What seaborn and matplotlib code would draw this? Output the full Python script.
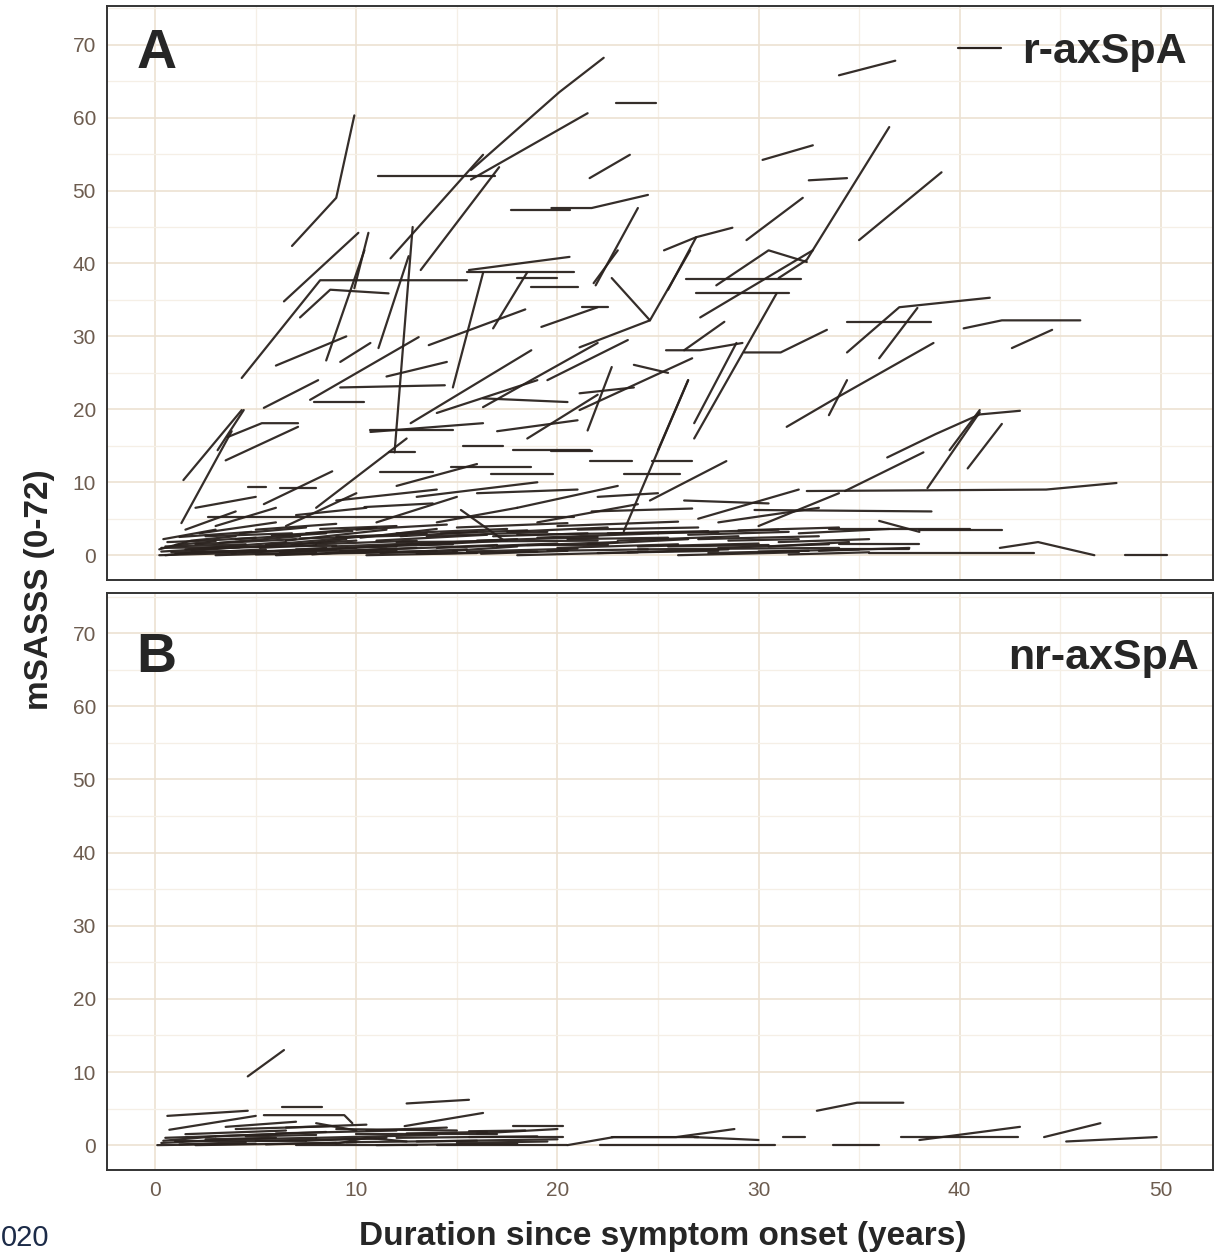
import matplotlib
matplotlib.use('Agg')
import matplotlib.pyplot as plt
import pandas as pd
import seaborn as sns
from matplotlib.lines import Line2D
from matplotlib.ticker import MultipleLocator

# each trajectory: list of (years since onset, mSASSS)
A_UPPER = [
    [(6.8, 42.4), (9.0, 49.0), (9.9, 60.3)],
    [(15.7, 52.8), (20.1, 63.5), (22.3, 68.2)],
    [(15.7, 51.5), (21.5, 60.6)],
    [(22.9, 62.0), (24.9, 62.0)],
    [(21.6, 51.7), (23.6, 54.9)],
    [(19.7, 47.6), (21.7, 47.6), (24.5, 49.4)],
    [(21.9, 37.0), (24.0, 47.6)],
    [(25.5, 36.4), (26.9, 43.6), (28.7, 44.9)],
    [(25.3, 41.8), (26.9, 43.6)],
    [(29.4, 43.2), (32.2, 49.0)],
    [(30.2, 54.2), (32.7, 56.2)],
    [(32.5, 51.4), (34.4, 51.7)],
    [(34.0, 65.8), (36.8, 67.8)],
    [(31.0, 38.0), (32.4, 40.5), (36.5, 58.7)],
    [(35.0, 43.2), (39.1, 52.5)],
    [(27.9, 37.0), (30.5, 41.8), (32.4, 40.2)],
    [(26.4, 37.9), (32.1, 37.9)],
    [(26.9, 35.9), (31.5, 35.9)],
    [(11.1, 52.0), (16.9, 52.0)],
    [(4.3, 24.3), (8.2, 37.7), (15.5, 37.7)],
    [(6.4, 34.8), (10.1, 44.2)],
    [(9.9, 36.6), (10.6, 44.2)],
    [(11.7, 40.7), (16.3, 54.9)],
    [(13.2, 39.1), (17.1, 53.2)],
    [(17.7, 47.3), (20.6, 47.3)],
    [(15.6, 39.1), (20.6, 40.9)],
    [(18.0, 38.0), (20.0, 38.0)],
    [(15.5, 38.8), (20.8, 38.8)],
    [(18.7, 36.8), (21.0, 36.8)],
    [(7.2, 32.6), (8.7, 36.4), (11.6, 35.9)],
    [(8.5, 26.7), (10.4, 41.8)],
    [(11.1, 28.4), (12.6, 41.0)],
    [(11.9, 14.1), (12.8, 45.0)],
    [(14.8, 23.0), (16.3, 38.7)],
    [(16.8, 31.1), (18.5, 38.8)],
    [(19.2, 31.3), (22.0, 34.0)],
    [(27.1, 32.6), (32.7, 41.8)],
    [(21.8, 37.3), (23.0, 41.8)],
    [(22.7, 38.0), (24.6, 32.2), (26.6, 41.8)],
]

A_MIDDLE = [
    [(21.1, 19.9), (26.7, 27.0)],
    [(23.8, 26.1), (25.5, 25.0)],
    [(21.5, 17.1), (22.7, 25.8)],
    [(21.1, 22.2), (23.8, 23.0)],
    [(25.0, 14.4), (26.5, 24.0)],
    [(26.8, 18.1), (28.9, 29.1)],
    [(25.4, 28.1), (27.1, 28.1), (29.2, 29.1)],
    [(26.3, 28.1), (28.3, 32.0)],
    [(29.3, 27.8), (31.1, 27.8), (33.4, 30.9)],
    [(26.8, 16.0), (30.9, 35.9)],
    [(31.4, 17.6), (33.7, 21.3), (38.7, 29.1)],
    [(33.5, 19.2), (34.4, 24.0)],
    [(34.4, 27.8), (37.0, 34.0), (41.5, 35.3)],
    [(34.4, 32.0), (38.6, 32.0)],
    [(36.0, 27.0), (37.9, 33.9)],
    [(40.2, 31.1), (42.1, 32.2), (46.0, 32.2)],
    [(42.6, 28.4), (44.6, 30.9)],
    [(39.5, 14.4), (41.0, 19.9)],
    [(40.4, 11.9), (42.1, 18.0)],
    [(21.1, 28.5), (24.6, 32.2)],
    [(21.2, 34.0), (22.5, 34.0)],
    [(13.6, 28.8), (18.4, 33.7)],
    [(5.4, 20.2), (8.1, 24.0)],
    [(7.7, 21.3), (13.1, 29.9)],
    [(9.2, 23.0), (14.4, 23.3)],
    [(7.9, 21.0), (10.4, 21.0)],
    [(3.6, 16.2), (5.3, 18.1), (7.1, 18.1)],
    [(3.1, 14.4), (4.4, 19.9)],
    [(10.7, 16.9), (16.3, 18.1)],
    [(12.7, 18.1), (18.7, 28.1)],
    [(16.3, 20.3), (22.0, 29.1)],
    [(16.3, 21.5), (20.5, 21.0)],
    [(9.2, 26.5), (10.7, 29.1)],
    [(1.4, 10.3), (4.3, 19.9)],
    [(1.3, 4.4), (3.8, 17.0)],
    [(3.5, 13.0), (7.1, 17.6)],
    [(10.7, 17.1), (14.8, 17.1)],
    [(11.6, 14.1), (12.9, 14.1)],
    [(11.2, 11.4), (13.8, 11.4)],
    [(14.7, 12.1), (18.7, 12.1)],
    [(16.7, 11.2), (19.8, 11.2)],
    [(17.8, 14.4), (21.6, 14.4)],
    [(15.3, 15.0), (17.3, 15.0)],
    [(19.7, 14.3), (21.7, 14.3)],
    [(21.6, 12.9), (23.7, 12.9)],
    [(24.7, 12.9), (26.7, 12.9)],
    [(23.3, 11.1), (26.1, 11.1)],
    [(23.3, 3.3), (26.5, 24.0)],
    [(34.3, 8.8), (38.2, 14.1)],
    [(36.4, 13.4), (38.8, 16.6), (41.0, 19.3), (43.0, 19.8)],
    [(38.4, 9.2), (41.0, 19.6)],
    [(24.6, 7.5), (28.4, 12.9)],
    [(5.4, 7.0), (8.8, 11.5)],
    [(8.0, 6.5), (12.5, 16.0)],
    [(12.0, 9.5), (16.0, 12.5)],
    [(17.0, 17.0), (21.0, 18.5)],
    [(18.5, 16.0), (22.0, 22.0)],
    [(14.0, 19.5), (19.0, 24.0)],
    [(19.5, 24.0), (23.5, 29.5)],
    [(6.0, 26.0), (9.5, 30.0)],
    [(11.5, 24.5), (14.5, 26.5)],
]

A_LOWER = [
    [(32.4, 8.8), (44.3, 9.0), (47.8, 9.9)],
    [(38.0, 3.4), (42.1, 3.4)],
    [(36.0, 4.7), (38.0, 3.2)],
    [(42.0, 1.0), (43.9, 1.8), (46.7, 0.0)],
    [(48.2, 0.0), (50.3, 0.0)],
    [(35.5, 0.3), (43.7, 0.3)],
    [(21.7, 6.0), (26.7, 6.4)],
    [(26.3, 7.5), (30.5, 7.1)],
    [(29.8, 6.2), (38.6, 6.0)],
    [(10.4, 6.6), (13.8, 7.1)],
    [(2.6, 5.2), (20.8, 5.2)],
    [(15.2, 6.2), (17.3, 2.1)],
    [(4.6, 9.3), (5.5, 9.3)],
    [(6.2, 9.2), (8.0, 9.2)],
    [(13.0, 8.0), (19.0, 10.0)],
    [(18.0, 6.5), (23.0, 9.5)],
    [(27.0, 5.0), (32.0, 9.0)],
    [(30.0, 4.0), (34.0, 8.5)],
    [(33.5, 3.6), (40.5, 3.6)],
    [(34.0, 0.8), (37.5, 0.8)],
    [(2.0, 6.5), (5.0, 8.0)],
    [(6.5, 4.0), (10.0, 8.5)],
    [(9.0, 7.5), (14.0, 9.0)],
    [(11.0, 4.5), (15.0, 8.0)],
    [(14.0, 4.5), (18.0, 6.5)],
    [(16.0, 8.5), (21.0, 9.0)],
    [(19.0, 4.5), (24.0, 7.0)],
    [(22.0, 8.0), (25.0, 8.5)],
    [(28.0, 4.5), (33.0, 6.5)],
    [(1.5, 3.5), (4.0, 6.0)],
    [(3.0, 4.0), (6.0, 6.5)],
    [(7.0, 5.5), (10.5, 6.5)],
]

A_BAND = [
    [(0.2, 0.0), (4.0, 0.3)],
    [(0.3, 0.5), (3.5, 1.0), (6.0, 1.2)],
    [(0.5, 1.2), (4.5, 1.5)],
    [(0.6, 1.8), (2.5, 2.0), (5.0, 2.4)],
    [(1.0, 0.2), (5.5, 0.8)],
    [(1.2, 2.5), (4.8, 3.2)],
    [(1.5, 0.8), (6.5, 1.8)],
    [(2.0, 1.5), (7.0, 2.2)],
    [(2.2, 3.0), (6.0, 4.5)],
    [(3.0, 0.0), (8.0, 0.4)],
    [(3.5, 1.0), (7.5, 1.6), (10.0, 2.0)],
    [(4.0, 2.2), (8.5, 3.0)],
    [(4.5, 0.5), (9.0, 0.8)],
    [(5.0, 3.5), (9.0, 4.3)],
    [(5.5, 1.4), (10.5, 2.6)],
    [(6.0, 0.0), (11.0, 0.5)],
    [(6.5, 2.0), (11.5, 3.5)],
    [(7.0, 0.8), (12.0, 1.2)],
    [(7.5, 3.0), (11.0, 3.8)],
    [(8.0, 1.5), (13.0, 2.0)],
    [(8.5, 0.3), (14.0, 0.6)],
    [(9.0, 2.5), (13.5, 3.0)],
    [(9.5, 1.0), (15.0, 1.8)],
    [(10.0, 3.5), (14.5, 4.2)],
    [(10.5, 0.0), (16.0, 0.3)],
    [(11.0, 2.0), (16.5, 2.8)],
    [(11.5, 0.8), (17.0, 1.4)],
    [(12.0, 3.0), (17.5, 3.6)],
    [(12.5, 1.5), (18.0, 2.2)],
    [(13.0, 0.2), (19.0, 0.5)],
    [(13.5, 2.6), (19.5, 3.2)],
    [(14.0, 1.0), (20.0, 1.6)],
    [(15.0, 3.8), (20.5, 4.4)],
    [(15.5, 0.5), (21.0, 0.9)],
    [(16.0, 2.0), (22.0, 2.5)],
    [(17.0, 1.2), (23.0, 1.8)],
    [(17.5, 3.2), (22.5, 3.8)],
    [(18.0, 0.0), (24.0, 0.4)],
    [(19.0, 2.4), (25.0, 3.0)],
    [(20.0, 1.0), (26.0, 1.5)],
    [(21.0, 3.5), (27.0, 3.8)],
    [(22.0, 0.3), (28.0, 0.6)],
    [(23.0, 2.0), (29.0, 2.6)],
    [(24.0, 1.2), (30.0, 1.6)],
    [(25.0, 3.0), (31.0, 3.5)],
    [(26.0, 0.0), (32.0, 0.4)],
    [(27.0, 2.2), (33.0, 2.6)],
    [(28.0, 1.0), (33.5, 1.5)],
    [(29.0, 3.4), (34.0, 3.8)],
    [(30.0, 0.5), (35.0, 0.8)],
    [(31.0, 1.8), (35.5, 2.2)],
    [(32.0, 3.0), (36.5, 3.6)],
    [(33.0, 0.6), (37.5, 1.0)],
    [(34.0, 1.5), (38.0, 1.5)],
    [(0.3, 1.0), (9.0, 1.3)],
    [(2.0, 0.4), (12.0, 0.7)],
    [(5.0, 0.1), (15.0, 0.5)],
    [(12.0, 1.8), (22.0, 2.0)],
    [(18.0, 2.8), (28.0, 3.2)],
    [(24.0, 0.8), (34.0, 1.0)],
    [(20.0, 4.0), (26.0, 4.6)],
    [(0.5, 0.0), (2.5, 0.5), (5.0, 0.6)],
    [(1.0, 1.4), (3.0, 1.9)],
    [(1.8, 0.6), (4.2, 1.1)],
    [(2.5, 2.6), (6.8, 3.0)],
    [(3.2, 1.7), (7.2, 2.6)],
    [(3.8, 0.2), (8.5, 1.0)],
    [(4.2, 3.0), (7.5, 3.8)],
    [(5.2, 1.0), (8.0, 1.4)],
    [(5.8, 2.7), (9.8, 3.3)],
    [(6.2, 0.4), (10.0, 1.0)],
    [(6.8, 1.4), (9.5, 2.2)],
    [(7.2, 2.3), (12.5, 2.7)],
    [(7.8, 0.1), (11.5, 0.9)],
    [(8.2, 3.6), (12.0, 4.0)],
    [(8.8, 1.2), (12.8, 1.6)],
    [(9.2, 0.6), (13.0, 1.0)],
    [(10.2, 2.4), (14.0, 3.6)],
    [(10.8, 1.2), (14.8, 1.5)],
    [(11.2, 0.3), (15.5, 0.8)],
    [(12.2, 2.6), (16.0, 3.2)],
    [(13.2, 1.4), (17.5, 2.0)],
    [(14.2, 3.0), (18.5, 3.4)],
    [(14.8, 0.6), (18.0, 1.2)],
    [(16.2, 0.2), (20.5, 0.6)],
    [(16.8, 2.6), (21.5, 3.0)],
    [(18.5, 1.4), (22.5, 1.4)],
    [(19.5, 0.6), (24.5, 0.8)],
    [(20.5, 2.2), (25.5, 2.4)],
    [(21.5, 1.5), (26.5, 2.2)],
    [(22.5, 3.0), (27.5, 3.3)],
    [(23.5, 0.4), (28.5, 0.8)],
    [(25.5, 1.2), (30.5, 1.4)],
    [(26.5, 2.8), (31.5, 3.2)],
    [(27.5, 0.3), (32.5, 0.6)],
    [(28.5, 2.0), (32.0, 2.2)],
    [(30.5, 1.2), (34.5, 1.8)],
    [(31.5, 0.1), (35.5, 0.4)],
    [(0.2, 0.8), (1.8, 2.0), (4.0, 2.6)],
    [(0.4, 2.2), (3.0, 3.5)],
    [(0.8, 0.4), (7.0, 0.6)],
]

B_TRAJ = [
    [(4.6, 9.4), (6.4, 13.0)],
    [(0.6, 4.0), (4.6, 4.7)],
    [(0.7, 2.1), (5.0, 4.0)],
    [(5.4, 4.1), (9.4, 4.1), (9.8, 3.0)],
    [(6.3, 5.2), (8.3, 5.2)],
    [(12.5, 5.7), (15.6, 6.2)],
    [(12.4, 2.6), (16.3, 4.4)],
    [(17.8, 2.6), (20.3, 2.6)],
    [(15.6, 1.9), (18.4, 2.0)],
    [(15.6, 1.1), (20.3, 1.1)],
    [(20.5, 0.0), (22.8, 1.1), (27.0, 1.1)],
    [(22.7, 1.1), (25.9, 1.1), (28.8, 2.2)],
    [(26.8, 1.1), (30.0, 0.7)],
    [(22.1, 0.0), (30.8, 0.0)],
    [(31.2, 1.1), (32.3, 1.1)],
    [(32.9, 4.7), (34.9, 5.8), (37.2, 5.8)],
    [(33.7, 0.0), (36.0, 0.0)],
    [(37.1, 1.1), (42.9, 1.1)],
    [(38.0, 0.7), (43.0, 2.5)],
    [(44.2, 1.1), (47.0, 3.0)],
    [(45.3, 0.5), (49.8, 1.1)],
]

B_BAND = [
    [(0.1, 0.0), (5.0, 0.2)],
    [(0.3, 0.3), (4.0, 0.8), (8.0, 1.0)],
    [(0.5, 1.0), (6.0, 1.5)],
    [(1.0, 0.5), (7.5, 0.5)],
    [(1.5, 1.5), (6.5, 2.0)],
    [(2.0, 0.0), (9.0, 0.3)],
    [(3.0, 1.2), (8.5, 1.8)],
    [(4.0, 2.2), (9.0, 2.6)],
    [(5.0, 0.6), (11.0, 0.9)],
    [(6.0, 1.6), (12.0, 2.0)],
    [(7.0, 0.0), (13.0, 0.0)],
    [(8.0, 1.0), (14.0, 1.4)],
    [(9.0, 2.2), (15.0, 2.0)],
    [(9.5, 0.4), (16.0, 0.6)],
    [(10.0, 1.5), (17.0, 1.5)],
    [(11.0, 0.0), (18.0, 0.2)],
    [(12.0, 1.0), (19.0, 1.2)],
    [(13.0, 0.5), (20.0, 0.8)],
    [(14.0, 0.0), (20.5, 0.0)],
    [(9.0, 0.2), (10.5, 1.0), (12.5, 0.5)],
    [(3.5, 2.5), (7.0, 3.2)],
    [(8.0, 3.0), (10.0, 2.0)],
    [(16.0, 1.6), (20.0, 2.2)],
    [(0.4, 0.6), (3.0, 1.2)],
    [(1.2, 0.1), (4.5, 0.4)],
    [(2.5, 0.8), (6.0, 1.0)],
    [(4.5, 1.2), (8.0, 1.4)],
    [(5.5, 0.1), (10.0, 0.4)],
    [(6.5, 2.4), (10.5, 2.8)],
    [(7.5, 0.6), (11.5, 1.0)],
    [(10.5, 2.0), (14.5, 2.4)],
    [(12.5, 1.6), (16.5, 1.8)],
    [(15.0, 0.3), (19.5, 0.5)],
]

X_TICKS = [0, 10, 20, 30, 40, 50]
Y_TICKS = [0, 10, 20, 30, 40, 50, 60, 70]

LINE_COLOR = '#2a221e'
TICK_COLOR = '#6d5c4f'
GRID_MAJOR = '#ece1d2'
GRID_MINOR = '#f5efe6'


def to_frame(groups):
    rows = []
    pid = 0
    for group in groups:
        for traj in group:
            for yr, score in traj:
                rows.append((pid, yr, score))
            pid += 1
    return pd.DataFrame(rows, columns=['pid', 'years', 'score'])


def style_axes(ax, ylim):
    ax.set_xlim(-2.4, 52.6)
    ax.set_ylim(*ylim)
    ax.set_xticks(X_TICKS)
    ax.set_yticks(Y_TICKS)
    ax.xaxis.set_minor_locator(MultipleLocator(5))
    ax.yaxis.set_minor_locator(MultipleLocator(5))
    ax.grid(which='major', color=GRID_MAJOR, lw=1.2)
    ax.grid(which='minor', color=GRID_MINOR, lw=0.9)
    ax.set_axisbelow(True)
    ax.tick_params(which='major', length=5, width=1.2, color='#333333',
                   labelsize=15, labelcolor=TICK_COLOR, pad=3)
    ax.tick_params(which='minor', length=0)
    for sp in ax.spines.values():
        sp.set_color('#333333')
        sp.set_linewidth(1.4)
    ax.set_xlabel('')
    ax.set_ylabel('')


sns.set_style('white')
plt.rcParams['font.family'] = ['Liberation Sans', 'DejaVu Sans']

df_a = to_frame([A_UPPER, A_MIDDLE, A_LOWER, A_BAND])
df_b = to_frame([B_TRAJ, B_BAND])

fig = plt.figure(figsize=(12.2, 12.55), dpi=100)
ax_a = fig.add_axes([107 / 1220, 1 - 580 / 1255, 1106 / 1220, 574 / 1255])
ax_b = fig.add_axes([107 / 1220, 1 - 1170 / 1255, 1106 / 1220, 577 / 1255])

for ax, df in [(ax_a, df_a), (ax_b, df_b)]:
    sns.lineplot(data=df, x='years', y='score', units='pid', estimator=None,
                 sort=False, color=LINE_COLOR, lw=1.6, alpha=0.95,
                 legend=False, ax=ax)

style_axes(ax_a, (-3.4, 75.3))
style_axes(ax_b, (-3.4, 75.5))
ax_a.tick_params(labelbottom=False)

ax_a.text(0.05, 68.7, 'A', fontsize=40, weight='bold', ha='center', va='center')
ax_b.text(0.05, 66.6, 'B', fontsize=40, weight='bold', ha='center', va='center')

ax_a.legend(handles=[Line2D([0], [0], color=LINE_COLOR, lw=1.6)], labels=['r-axSpA'],
            loc='upper right', frameon=False, prop={'weight': 'bold', 'size': 31},
            handlelength=1.0, handletextpad=0.5, borderaxespad=0.2)
ax_b.text(51.9, 66.6, 'nr-axSpA', fontsize=31, weight='bold', ha='right', va='center')

fig.text(40 / 1220, 1 - 590 / 1255, 'mSASSS (0-72)', rotation=90, fontsize=24,
         weight='bold', ha='center', va='center')
fig.text(663 / 1220, 1 - 1237 / 1255, 'Duration since symptom onset (years)',
         fontsize=24, weight='bold', ha='center', va='center')
fig.text(0.001, 0.002, '020', fontsize=21, color='#1c2b48', ha='left', va='bottom')

fig.savefig('out.png', dpi=100)
